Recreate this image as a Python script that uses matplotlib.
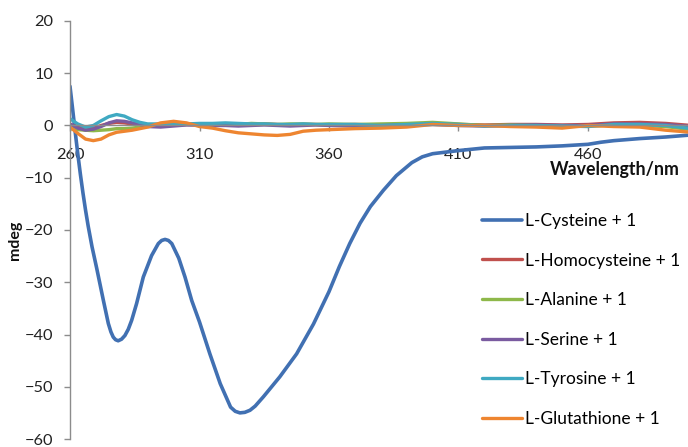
import numpy as np
import matplotlib.pyplot as plt

plt.rcParams['font.family'] = ['Lato', 'DejaVu Sans']

# CD spectra (mdeg) vs wavelength (nm)
wl_cys = [260, 261, 262, 263, 264, 265, 266, 267, 268.5, 270.3, 272.9, 274.8, 275.8, 276.7,
          277.6, 278.6, 279.9, 281.2, 282.5, 283.8, 285.7, 288.3, 291.5, 294.1, 295.4, 296.7,
          298, 299.3, 302, 304.4, 307, 310, 314, 318, 322, 323.8, 325.6, 327.5, 329.5, 331.5,
          334.7, 341, 347.5, 354, 360, 364, 368, 372, 376, 381, 386, 392, 396, 400, 405, 410,
          420, 430, 440, 450, 460, 465, 470, 480, 490, 500]
cysteine = [7.5, 3.2, -1.2, -5.4, -9.3, -12.9, -16.2, -19.2, -23.2, -27.3, -33.5, -37.9,
            -39.5, -40.5, -41.0, -41.2, -40.9, -40.2, -39.0, -37.3, -34.1, -29.0, -24.9, -22.6,
            -22.0, -21.8, -22.0, -22.6, -25.4, -29.0, -33.5, -37.6, -43.7, -49.4, -53.9, -54.7,
            -55.0, -54.9, -54.5, -53.7, -51.9, -48.1, -43.7, -38.0, -31.8, -27.0, -22.6, -18.7,
            -15.5, -12.4, -9.6, -7.1, -6.0, -5.4, -5.1, -4.8, -4.3, -4.2, -4.1, -3.9, -3.6,
            -3.2, -2.9, -2.5, -2.2, -1.8]

wl = [260, 263, 266, 269, 272, 275, 278, 281, 284, 287, 290, 295, 300, 305, 310, 315, 320,
      325, 330, 335, 340, 345, 350, 355, 360, 370, 380, 390, 400, 410, 420, 430, 440, 450,
      460, 470, 480, 490, 500]
homocysteine = [0.2, -0.3, -0.6, -0.5, 0.0, 0.4, 0.6, 0.5, 0.3, 0.1, 0.0, 0.0, 0.1, 0.2, 0.1,
                0.2, 0.2, 0.1, 0.2, 0.3, 0.2, 0.1, 0.2, 0.2, 0.1, 0.2, 0.1, 0.2, 0.3, 0.2, 0.1,
                0.2, 0.2, 0.1, 0.2, 0.5, 0.6, 0.4, 0.0]
alanine = [-0.6, -0.8, -0.9, -1.0, -0.9, -0.8, -0.6, -0.6, -0.5, -0.3, 0.0, 0.2, 0.3, 0.3,
           0.2, 0.3, 0.3, 0.2, 0.4, 0.3, 0.2, 0.3, 0.3, 0.2, 0.3, 0.2, 0.3, 0.4, 0.6, 0.3, 0.0,
           0.1, 0.0, -0.2, -0.1, 0.1, 0.0, -0.2, -0.8]
serine = [0.3, -0.5, -0.9, -0.7, -0.2, 0.5, 0.9, 0.8, 0.5, 0.2, -0.2, -0.3, -0.1, 0.1, 0.1,
          0.0, 0.0, -0.1, 0.0, 0.1, 0.0, -0.1, 0.0, 0.1, 0.0, -0.1, 0.0, 0.1, 0.2, 0.0, -0.1,
          0.0, 0.1, 0.0, 0.0, 0.3, 0.3, 0.2, -0.2]
tyrosine = [1.3, 0.3, -0.3, 0.0, 0.9, 1.7, 2.1, 1.8, 1.1, 0.6, 0.3, 0.3, 0.4, 0.3, 0.4, 0.4,
            0.5, 0.4, 0.3, 0.3, 0.2, 0.2, 0.3, 0.2, 0.2, 0.2, 0.0, 0.2, 0.4, 0.2, -0.1, 0.0,
            0.0, -0.1, -0.2, 0.2, 0.2, 0.0, -0.6]
glutathione = [-0.3, -1.5, -2.6, -2.9, -2.6, -1.8, -1.3, -1.1, -0.9, -0.6, -0.3, 0.5, 0.8,
               0.5, -0.2, -0.5, -1.0, -1.4, -1.6, -1.8, -1.9, -1.7, -1.1, -0.9, -0.8, -0.6,
               -0.5, -0.3, 0.2, 0.0, 0.0, -0.2, -0.3, -0.5, 0.0, -0.2, -0.3, -0.9, -1.3]

labels = ['L-Cysteine + 1', 'L-Homocysteine + 1', 'L-Alanine + 1', 'L-Serine + 1',
          'L-Tyrosine + 1', 'L-Glutathione + 1']
colors = ['#4170B2', '#C0504D', '#8EB84A', '#7A5BA0', '#3FA9C2', '#EE8530']

fig = plt.figure(figsize=(6.88, 4.47), dpi=100)
ax = fig.add_axes([70 / 688, 8 / 447, 621.6 / 688, 418 / 447])

series = [(wl_cys, cysteine), (wl, homocysteine), (wl, alanine), (wl, serine),
          (wl, tyrosine), (wl, glutathione)]
for (x, y), lab, c in zip(series, labels, colors):
    lw = 2.6 if lab.startswith('L-Cys') else 2.4
    ax.plot(x, y, color=c, lw=lw, label=lab, solid_capstyle='round', solid_joinstyle='round')

ax.set_xlim(260, 500)
ax.set_ylim(-60, 20)
ax.set_xticks(np.arange(260, 461, 50))
ax.set_yticks(np.arange(-60, 21, 10))

ax.spines['top'].set_visible(False)
ax.spines['right'].set_visible(False)
ax.spines['bottom'].set_position(('data', 0))
for s in ('left', 'bottom'):
    ax.spines[s].set_color('#8c8c8c')
    ax.spines[s].set_linewidth(1.0)

ax.tick_params(axis='both', colors='#8c8c8c', labelcolor='#222222', labelsize=11.8,
               length=4, width=1, direction='out')
ax.tick_params(axis='x', pad=12)
ax.tick_params(axis='y', pad=8)

fig.text(680 / 688, 1 - 170 / 447, 'Wavelength/nm', ha='right', va='center',
         fontsize=12.8, fontweight='bold', color='#111111')
fig.text(15 / 688, 1 - 240 / 447, 'mdeg', ha='center', va='center', rotation=90,
         fontsize=11.5, fontweight='bold', color='#111111')

ax.legend(loc='upper left', bbox_to_anchor=(475 / 688, 1 - 206 / 447),
          bbox_transform=fig.transFigure, frameon=False, fontsize=12.5,
          handlelength=2.3, handletextpad=0.17, labelspacing=1.36, borderaxespad=0)

fig.savefig('out.png', dpi=100)
